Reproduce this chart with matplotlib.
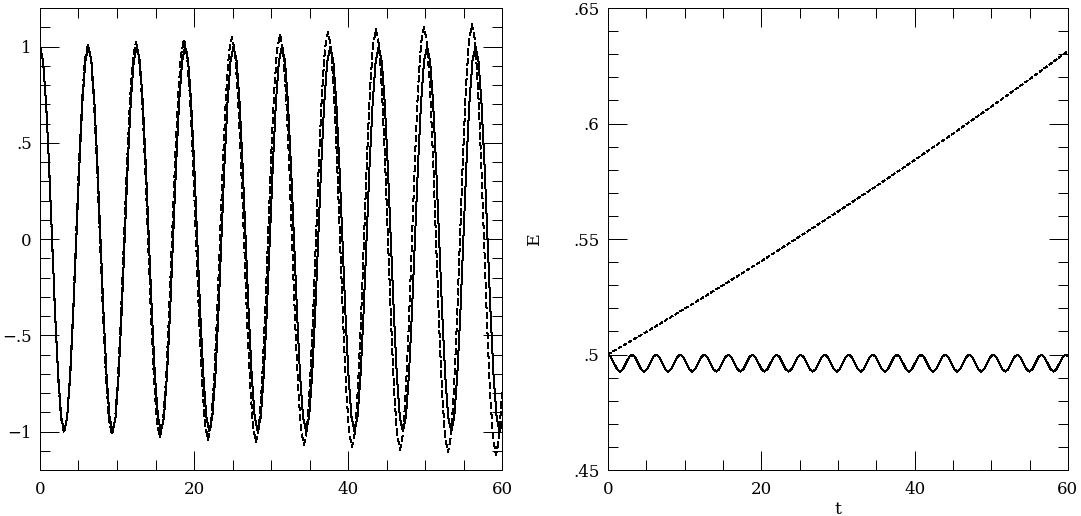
import matplotlib
matplotlib.use('Agg')
import matplotlib.pyplot as plt
from matplotlib.ticker import MultipleLocator

# left panel: position x(t), solid and dashed integrator
t_solid = [
    0.00, 0.39, 0.79, 1.18, 1.57, 1.96, 2.36, 2.75, 3.14, 3.53, 3.93, 4.32, 4.71, 5.11, 5.50, 5.89,
    6.28, 6.68, 7.07, 7.46, 7.85, 8.25, 8.64, 9.03, 9.42, 9.82, 10.21, 10.60, 11.00, 11.39, 11.78, 12.17,
    12.57, 12.96, 13.35, 13.74, 14.14, 14.53, 14.92, 15.32, 15.71, 16.10, 16.49, 16.89, 17.28, 17.67, 18.06, 18.46,
    18.85, 19.24, 19.63, 20.03, 20.42, 20.81, 21.21, 21.60, 21.99, 22.38, 22.78, 23.17, 23.56, 23.95, 24.35, 24.74,
    25.13, 25.53, 25.92, 26.31, 26.70, 27.10, 27.49, 27.88, 28.27, 28.67, 29.06, 29.45, 29.85, 30.24, 30.63, 31.02,
    31.42, 31.81, 32.20, 32.59, 32.99, 33.38, 33.77, 34.16, 34.56, 34.95, 35.34, 35.74, 36.13, 36.52, 36.91, 37.31,
    37.70, 38.09, 38.48, 38.88, 39.27, 39.66, 40.06, 40.45, 40.84, 41.23, 41.63, 42.02, 42.41, 42.80, 43.20, 43.59,
    43.98, 44.38, 44.77, 45.16, 45.55, 45.95, 46.34, 46.73, 47.12, 47.52, 47.91, 48.30, 48.69, 49.09, 49.48, 49.87,
    50.27, 50.66, 51.05, 51.44, 51.84, 52.23, 52.62, 53.01, 53.41, 53.80, 54.19, 54.59, 54.98, 55.37, 55.76, 56.16,
    56.55, 56.94, 57.33, 57.73, 58.12, 58.51, 58.90, 59.30, 59.69, 60.00,
]
x_solid = [
    1, .924, .707, .383, 0, -.383, -.707, -.924, -1, -.924, -.707, -.383, 0, .383, .707, .924,
    1, .924, .707, .383, 0, -.383, -.707, -.924, -1, -.924, -.707, -.383, 0, .383, .707, .924,
    1, .924, .707, .383, 0, -.383, -.707, -.924, -1, -.924, -.707, -.383, 0, .383, .707, .924,
    1, .924, .707, .383, 0, -.383, -.707, -.924, -1, -.924, -.707, -.383, 0, .383, .707, .924,
    1, .924, .707, .383, 0, -.383, -.707, -.924, -1, -.924, -.707, -.383, 0, .383, .707, .924,
    1, .924, .707, .383, 0, -.383, -.707, -.924, -1, -.924, -.707, -.383, 0, .383, .707, .924,
    1, .924, .707, .383, 0, -.383, -.707, -.924, -1, -.924, -.707, -.383, 0, .383, .707, .924,
    1, .924, .707, .383, 0, -.383, -.707, -.924, -1, -.924, -.707, -.383, 0, .383, .707, .924,
    1, .924, .707, .383, 0, -.383, -.707, -.924, -1, -.924, -.707, -.383, 0, .383, .707, .924,
    1, .924, .707, .383, 0, -.383, -.707, -.924, -1, -.952,
]
t_dashed = [
    0.00, 0.39, 0.78, 1.17, 1.56, 1.95, 2.34, 2.73, 3.12, 3.51, 3.90, 4.29, 4.68, 5.06, 5.45, 5.84,
    6.23, 6.62, 7.01, 7.40, 7.79, 8.18, 8.57, 8.96, 9.35, 9.74, 10.13, 10.52, 10.91, 11.30, 11.69, 12.08,
    12.47, 12.86, 13.25, 13.64, 14.02, 14.41, 14.80, 15.19, 15.58, 15.97, 16.36, 16.75, 17.14, 17.53, 17.92, 18.31,
    18.70, 19.09, 19.48, 19.87, 20.26, 20.65, 21.04, 21.43, 21.82, 22.21, 22.60, 22.99, 23.37, 23.76, 24.15, 24.54,
    24.93, 25.32, 25.71, 26.10, 26.49, 26.88, 27.27, 27.66, 28.05, 28.44, 28.83, 29.22, 29.61, 30.00, 30.39, 30.78,
    31.17, 31.56, 31.95, 32.34, 32.72, 33.11, 33.50, 33.89, 34.28, 34.67, 35.06, 35.45, 35.84, 36.23, 36.62, 37.01,
    37.40, 37.79, 38.18, 38.57, 38.96, 39.35, 39.74, 40.13, 40.52, 40.91, 41.30, 41.69, 42.07, 42.46, 42.85, 43.24,
    43.63, 44.02, 44.41, 44.80, 45.19, 45.58, 45.97, 46.36, 46.75, 47.14, 47.53, 47.92, 48.31, 48.70, 49.09, 49.48,
    49.87, 50.26, 50.65, 51.04, 51.42, 51.81, 52.20, 52.59, 52.98, 53.37, 53.76, 54.15, 54.54, 54.93, 55.32, 55.71,
    56.10, 56.49, 56.88, 57.27, 57.66, 58.05, 58.44, 58.83, 59.22, 59.61, 60.00,
]
x_dashed = [
    1.000, 0.925, 0.708, 0.384, 0, -0.384, -0.710, -0.929, -1.006, -0.930, -0.713, -0.386, 0, 0.387, 0.715, 0.934,
    1.012, 0.936, 0.717, 0.388, 0, -0.389, -0.719, -0.940, -1.018, -0.942, -0.721, -0.391, 0, 0.391, 0.723, 0.946,
    1.025, 0.947, 0.726, 0.393, 0, -0.394, -0.728, -0.952, -1.031, -0.953, -0.730, -0.395, 0, 0.396, 0.732, 0.957,
    1.037, 0.959, 0.734, 0.398, 0, -0.398, -0.737, -0.963, -1.043, -0.965, -0.739, -0.400, 0, 0.401, 0.741, 0.969,
    1.050, 0.971, 0.743, 0.403, 0, -0.403, -0.746, -0.975, -1.056, -0.977, -0.748, -0.405, 0, 0.406, 0.750, 0.981,
    1.063, 0.983, 0.753, 0.408, 0, -0.408, -0.755, -0.987, -1.069, -0.989, -0.757, -0.410, 0, 0.411, 0.759, 0.993,
    1.076, 0.995, 0.762, 0.413, 0, -0.413, -0.764, -0.999, -1.082, -1.001, -0.766, -0.415, 0, 0.416, 0.769, 1.005,
    1.089, 1.007, 0.771, 0.418, 0, -0.418, -0.773, -1.011, -1.095, -1.013, -0.776, -0.420, 0, 0.421, 0.778, 1.017,
    1.102, 1.019, 0.781, 0.423, 0, -0.423, -0.783, -1.024, -1.109, -1.025, -0.785, -0.425, 0, 0.426, 0.788, 1.030,
    1.116, 1.031, 0.790, 0.428, 0, -0.429, -0.792, -1.036, -1.122, -1.038, -0.795,
]

# right panel: energy E(t)
e_solid = [
    .5, .4989, .4963, .4937, .4926, .4937, .4963, .4989, .5, .4989, .4963, .4937, .4926, .4937, .4963, .4989,
    .5, .4989, .4963, .4937, .4926, .4937, .4963, .4989, .5, .4989, .4963, .4937, .4926, .4937, .4963, .4989,
    .5, .4989, .4963, .4937, .4926, .4937, .4963, .4989, .5, .4989, .4963, .4937, .4926, .4937, .4963, .4989,
    .5, .4989, .4963, .4937, .4926, .4937, .4963, .4989, .5, .4989, .4963, .4937, .4926, .4937, .4963, .4989,
    .5, .4989, .4963, .4937, .4926, .4937, .4963, .4989, .5, .4989, .4963, .4937, .4926, .4937, .4963, .4989,
    .5, .4989, .4963, .4937, .4926, .4937, .4963, .4989, .5, .4989, .4963, .4937, .4926, .4937, .4963, .4989,
    .5, .4989, .4963, .4937, .4926, .4937, .4963, .4989, .5, .4989, .4963, .4937, .4926, .4937, .4963, .4989,
    .5, .4989, .4963, .4937, .4926, .4937, .4963, .4989, .5, .4989, .4963, .4937, .4926, .4937, .4963, .4989,
    .5, .4989, .4963, .4937, .4926, .4937, .4963, .4989, .5, .4989, .4963, .4937, .4926, .4937, .4963, .4989,
    .5, .4989, .4963, .4937, .4926, .4937, .4963, .4989, .5, .4993,
]
t_energy = [0, 5, 10, 15, 20, 25, 30, 35, 40, 45, 50, 55, 60]
e_dashed = [.5, .5098, .5198, .5300, .5404, .5511, .5619, .5729, .5842, .5956, .6073, .6192, .6314]

x_ticks = [0, 20, 40, 60]
x_labels = ['0', '20', '40', '60']
left_yticks = [-1, -.5, 0, .5, 1]
left_ylabels = ['\u22121', '\u2212.5', '0', '.5', '1']
right_yticks = [.45, .5, .55, .6, .65]
right_ylabels = ['.45', '.5', '.55', '.6', '.65']

plt.rcParams['font.family'] = ['DejaVu Serif']
plt.rcParams['lines.scale_dashes'] = False

fig = plt.figure(figsize=(10.81, 5.16), dpi=100)
ax1 = fig.add_axes([0.037, 0.0891, 0.4274, 0.8953])
ax2 = fig.add_axes([0.5624, 0.0891, 0.4255, 0.8953])

lw = 0.72
ax1.plot(t_solid, x_solid, color='k', lw=lw, antialiased=False)
ax1.plot(t_dashed, x_dashed, color='k', lw=lw, dashes=(5, 2.2), antialiased=False)

ax2.plot(t_solid, e_solid, color='k', lw=lw, antialiased=False)
ax2.plot(t_energy, e_dashed, color='k', lw=lw, dashes=(2.2, 1.5), antialiased=False)


def style_axes(ax, yticks, ylabels, ylim, yminor):
    ax.set_xlim(0, 60)
    ax.set_ylim(*ylim)
    ax.set_xticks(x_ticks, x_labels)
    ax.set_yticks(yticks, ylabels)
    ax.xaxis.set_minor_locator(MultipleLocator(5))
    ax.yaxis.set_minor_locator(MultipleLocator(yminor))
    ax.tick_params(which='both', direction='in', top=True, right=True,
                   width=lw, labelsize=12)
    ax.tick_params(axis='x', pad=8)
    ax.tick_params(axis='y', pad=6)
    ax.tick_params(which='major', length=14)
    ax.tick_params(which='minor', length=7)
    for s in ax.spines.values():
        s.set_linewidth(lw)


style_axes(ax1, left_yticks, left_ylabels, (-1.2, 1.2), 0.1)
style_axes(ax2, right_yticks, right_ylabels, (.45, .65), 0.01)

ax2.set_xlabel('t', fontsize=12.5, labelpad=2)
ax2.set_ylabel('E', fontsize=12.5, labelpad=22)

fig.savefig('out.png', dpi=100)
